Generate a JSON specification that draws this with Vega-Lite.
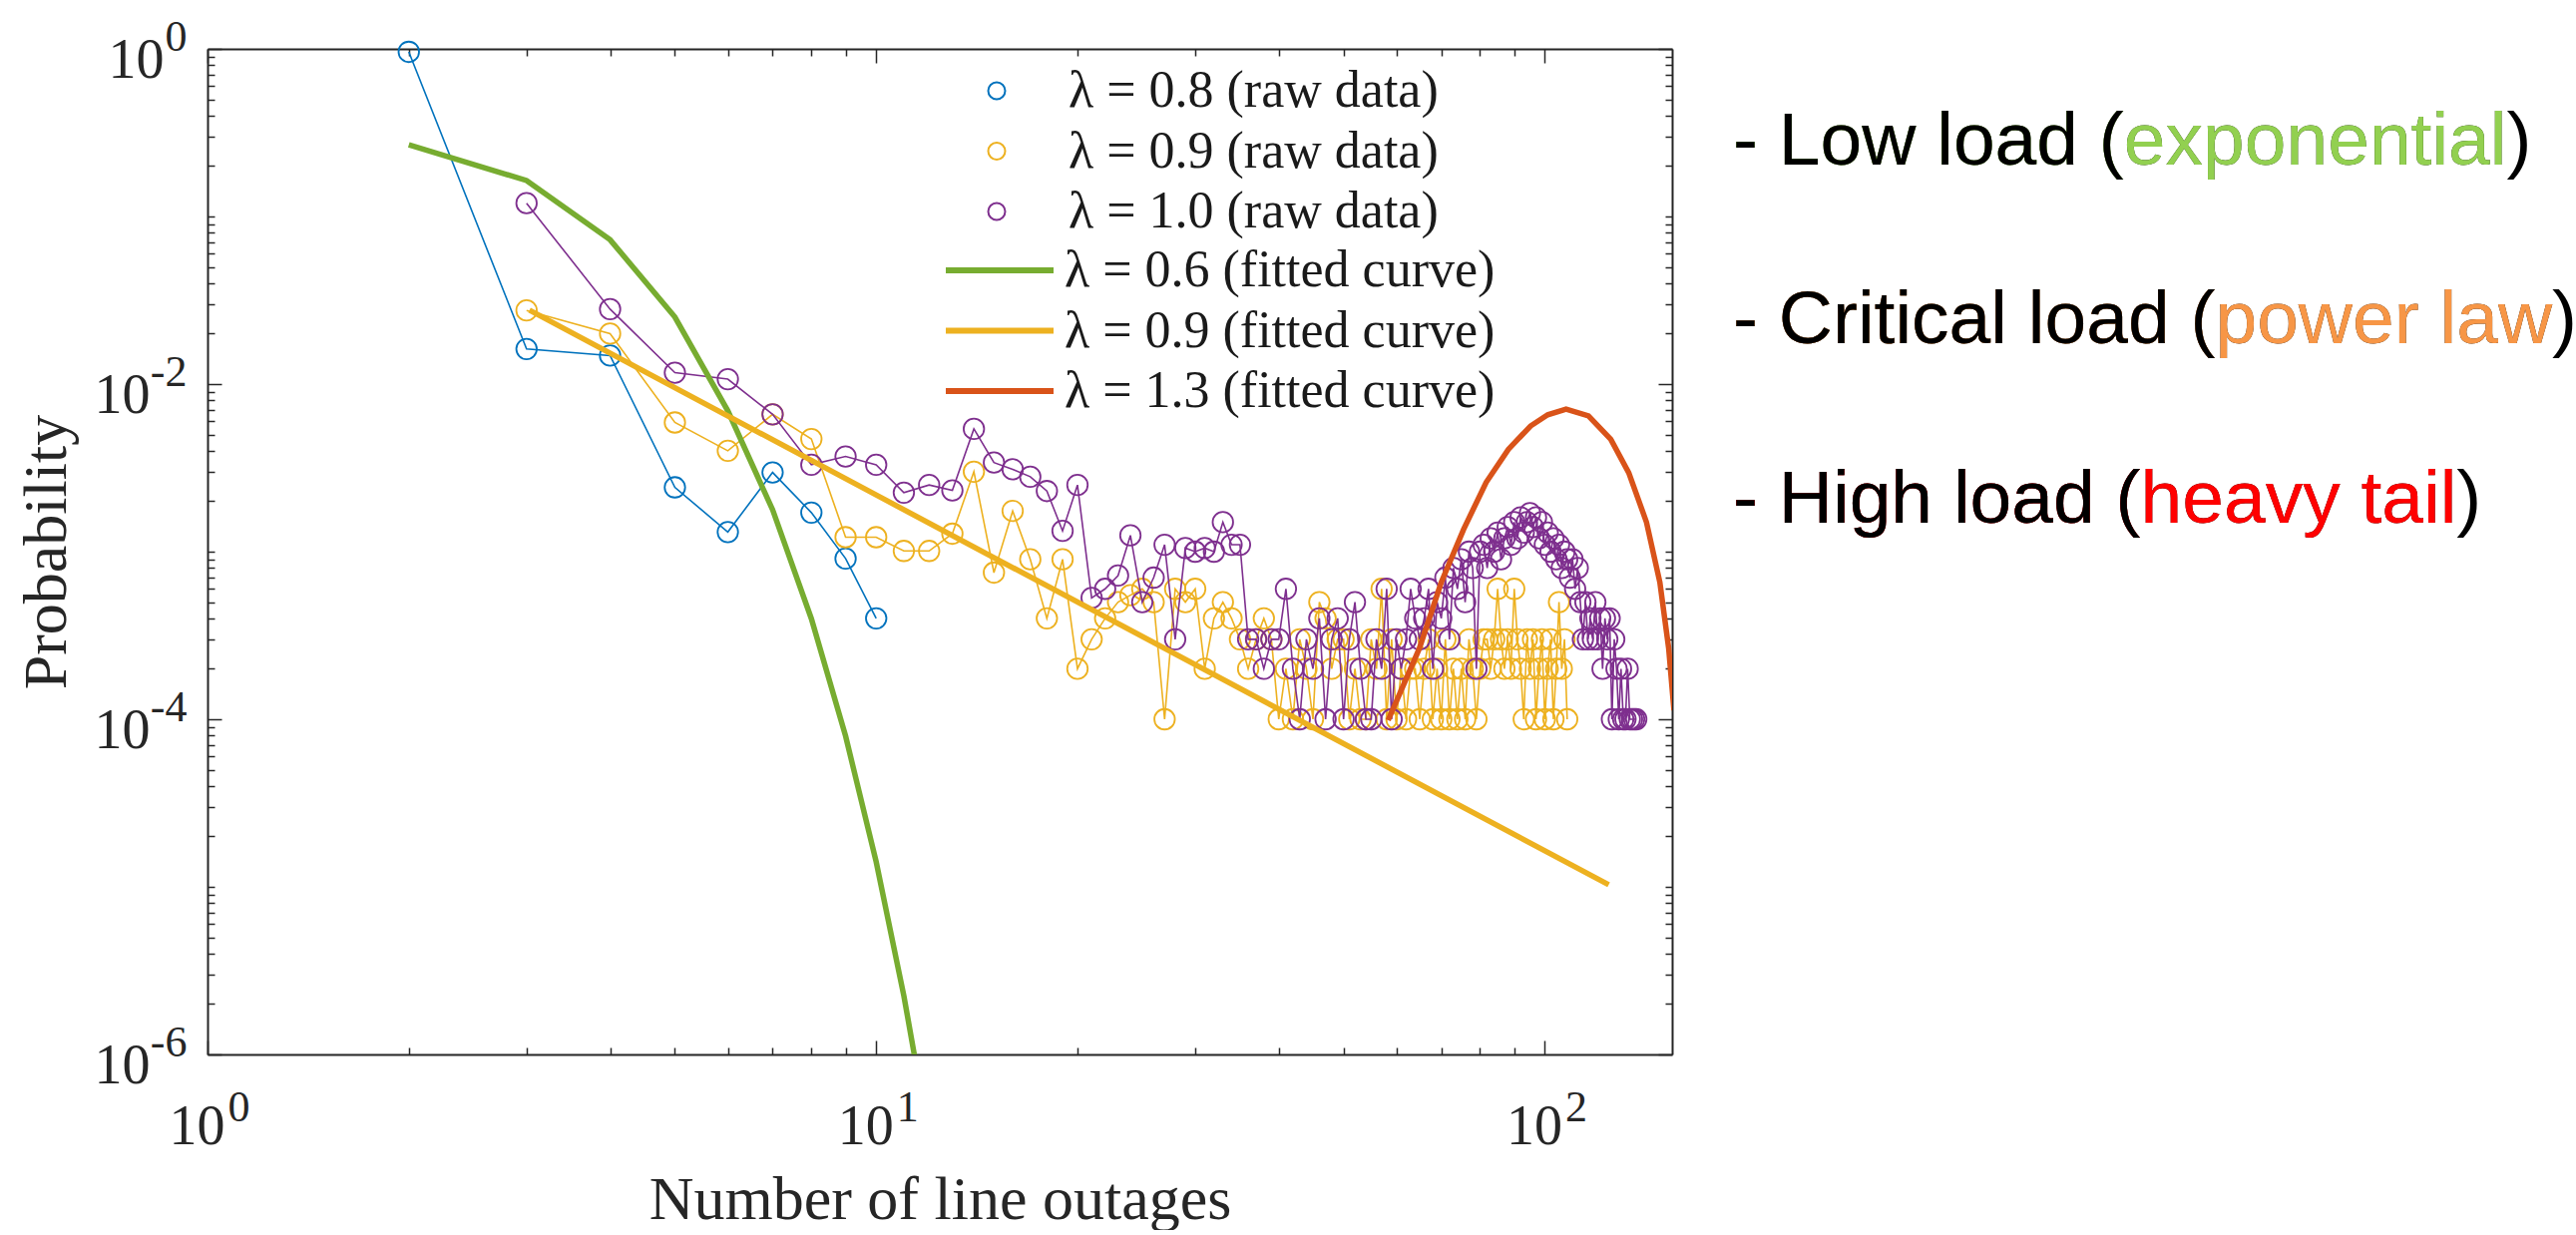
{
  "$schema": "https://vega.github.io/schema/vega-lite/v6.json",
  "background": "white",
  "autosize": {"type": "pad"},
  "padding": {"left": 15, "top": 15, "right": 0, "bottom": 0},
  "bounds": "flush",
  "spacing": 61,
  "config": {
    "view": {"stroke": null},
    "font": "Liberation Serif",
    "axis": {"grid": false, "domainColor": "#262626", "domainWidth": 2, "tickColor": "#262626", "tickWidth": 1.5, "labelColor": "#262626", "titleColor": "#262626", "labelFont": "Liberation Serif", "titleFont": "Liberation Serif", "titleFontWeight": "normal", "labelFlush": false, "labelOverlap": false}
  },
  "resolve": {"scale": {"x": "independent", "y": "independent"}},
  "datasets": {
    "blue": [
      {"s": "λ = 0.8 (raw data)", "x": 2, "p": 0.96},
      {"s": "λ = 0.8 (raw data)", "x": 3, "p": 0.0162},
      {"s": "λ = 0.8 (raw data)", "x": 4, "p": 0.0148},
      {"s": "λ = 0.8 (raw data)", "x": 5, "p": 0.00242},
      {"s": "λ = 0.8 (raw data)", "x": 6, "p": 0.00131},
      {"s": "λ = 0.8 (raw data)", "x": 7, "p": 0.00297},
      {"s": "λ = 0.8 (raw data)", "x": 8, "p": 0.00171},
      {"s": "λ = 0.8 (raw data)", "x": 9, "p": 0.00091},
      {"s": "λ = 0.8 (raw data)", "x": 10, "p": 0.0004}
    ],
    "yellow": [
      {"s": "λ = 0.9 (raw data)", "x": 3, "p": 0.0275},
      {"s": "λ = 0.9 (raw data)", "x": 4, "p": 0.02},
      {"s": "λ = 0.9 (raw data)", "x": 5, "p": 0.0059},
      {"s": "λ = 0.9 (raw data)", "x": 6, "p": 0.004},
      {"s": "λ = 0.9 (raw data)", "x": 7, "p": 0.0066},
      {"s": "λ = 0.9 (raw data)", "x": 8, "p": 0.0047},
      {"s": "λ = 0.9 (raw data)", "x": 9, "p": 0.00122},
      {"s": "λ = 0.9 (raw data)", "x": 10, "p": 0.00122},
      {"s": "λ = 0.9 (raw data)", "x": 11, "p": 0.00101},
      {"s": "λ = 0.9 (raw data)", "x": 12, "p": 0.00101},
      {"s": "λ = 0.9 (raw data)", "x": 13, "p": 0.00128},
      {"s": "λ = 0.9 (raw data)", "x": 14, "p": 0.003},
      {"s": "λ = 0.9 (raw data)", "x": 15, "p": 0.00075},
      {"s": "λ = 0.9 (raw data)", "x": 16, "p": 0.00175},
      {"s": "λ = 0.9 (raw data)", "x": 17, "p": 0.0009},
      {"s": "λ = 0.9 (raw data)", "x": 18, "p": 0.0004},
      {"s": "λ = 0.9 (raw data)", "x": 19, "p": 0.0009},
      {"s": "λ = 0.9 (raw data)", "x": 20, "p": 0.0002},
      {"s": "λ = 0.9 (raw data)", "x": 21, "p": 0.0003},
      {"s": "λ = 0.9 (raw data)", "x": 22, "p": 0.0004},
      {"s": "λ = 0.9 (raw data)", "x": 23, "p": 0.0005},
      {"s": "λ = 0.9 (raw data)", "x": 24, "p": 0.00055},
      {"s": "λ = 0.9 (raw data)", "x": 25, "p": 0.0006},
      {"s": "λ = 0.9 (raw data)", "x": 26, "p": 0.0005},
      {"s": "λ = 0.9 (raw data)", "x": 27, "p": 0.0001},
      {"s": "λ = 0.9 (raw data)", "x": 28, "p": 0.0006},
      {"s": "λ = 0.9 (raw data)", "x": 29, "p": 0.0005},
      {"s": "λ = 0.9 (raw data)", "x": 30, "p": 0.0006},
      {"s": "λ = 0.9 (raw data)", "x": 31, "p": 0.0002},
      {"s": "λ = 0.9 (raw data)", "x": 32, "p": 0.0004},
      {"s": "λ = 0.9 (raw data)", "x": 33, "p": 0.0005},
      {"s": "λ = 0.9 (raw data)", "x": 34, "p": 0.0004},
      {"s": "λ = 0.9 (raw data)", "x": 35, "p": 0.0003},
      {"s": "λ = 0.9 (raw data)", "x": 36, "p": 0.0002},
      {"s": "λ = 0.9 (raw data)", "x": 37, "p": 0.0003},
      {"s": "λ = 0.9 (raw data)", "x": 38, "p": 0.0004},
      {"s": "λ = 0.9 (raw data)", "x": 39, "p": 0.0003},
      {"s": "λ = 0.9 (raw data)", "x": 40, "p": 0.0001},
      {"s": "λ = 0.9 (raw data)", "x": 41, "p": 0.0002},
      {"s": "λ = 0.9 (raw data)", "x": 42, "p": 0.0001},
      {"s": "λ = 0.9 (raw data)", "x": 43, "p": 0.0003},
      {"s": "λ = 0.9 (raw data)", "x": 44, "p": 0.0002},
      {"s": "λ = 0.9 (raw data)", "x": 45, "p": 0.0001},
      {"s": "λ = 0.9 (raw data)", "x": 46, "p": 0.0005},
      {"s": "λ = 0.9 (raw data)", "x": 47, "p": 0.0004},
      {"s": "λ = 0.9 (raw data)", "x": 48, "p": 0.0002},
      {"s": "λ = 0.9 (raw data)", "x": 49, "p": 0.0003},
      {"s": "λ = 0.9 (raw data)", "x": 50, "p": 0.0003},
      {"s": "λ = 0.9 (raw data)", "x": 51, "p": 0.0001},
      {"s": "λ = 0.9 (raw data)", "x": 52, "p": 0.0002},
      {"s": "λ = 0.9 (raw data)", "x": 53, "p": 0.0001},
      {"s": "λ = 0.9 (raw data)", "x": 54, "p": 0.0001},
      {"s": "λ = 0.9 (raw data)", "x": 55, "p": 0.0003},
      {"s": "λ = 0.9 (raw data)", "x": 56, "p": 0.0002},
      {"s": "λ = 0.9 (raw data)", "x": 57, "p": 0.0006},
      {"s": "λ = 0.9 (raw data)", "x": 58, "p": 0.0001},
      {"s": "λ = 0.9 (raw data)", "x": 59, "p": 0.0003},
      {"s": "λ = 0.9 (raw data)", "x": 60, "p": 0.0001},
      {"s": "λ = 0.9 (raw data)", "x": 61, "p": 0.0002},
      {"s": "λ = 0.9 (raw data)", "x": 62, "p": 0.0001},
      {"s": "λ = 0.9 (raw data)", "x": 63, "p": 0.0002},
      {"s": "λ = 0.9 (raw data)", "x": 64, "p": 0.0002},
      {"s": "λ = 0.9 (raw data)", "x": 65, "p": 0.0001},
      {"s": "λ = 0.9 (raw data)", "x": 66, "p": 0.0002},
      {"s": "λ = 0.9 (raw data)", "x": 67, "p": 0.0003},
      {"s": "λ = 0.9 (raw data)", "x": 68, "p": 0.0001},
      {"s": "λ = 0.9 (raw data)", "x": 69, "p": 0.0002},
      {"s": "λ = 0.9 (raw data)", "x": 70, "p": 0.0001},
      {"s": "λ = 0.9 (raw data)", "x": 71, "p": 0.0003},
      {"s": "λ = 0.9 (raw data)", "x": 72, "p": 0.0001},
      {"s": "λ = 0.9 (raw data)", "x": 73, "p": 0.0002},
      {"s": "λ = 0.9 (raw data)", "x": 74, "p": 0.0001},
      {"s": "λ = 0.9 (raw data)", "x": 75, "p": 0.0002},
      {"s": "λ = 0.9 (raw data)", "x": 76, "p": 0.0001},
      {"s": "λ = 0.9 (raw data)", "x": 77, "p": 0.0003},
      {"s": "λ = 0.9 (raw data)", "x": 78, "p": 0.0002},
      {"s": "λ = 0.9 (raw data)", "x": 79, "p": 0.0001},
      {"s": "λ = 0.9 (raw data)", "x": 80, "p": 0.0002},
      {"s": "λ = 0.9 (raw data)", "x": 81, "p": 0.0003},
      {"s": "λ = 0.9 (raw data)", "x": 82, "p": 0.0003},
      {"s": "λ = 0.9 (raw data)", "x": 83, "p": 0.0002},
      {"s": "λ = 0.9 (raw data)", "x": 84, "p": 0.0003},
      {"s": "λ = 0.9 (raw data)", "x": 85, "p": 0.0006},
      {"s": "λ = 0.9 (raw data)", "x": 86, "p": 0.0003},
      {"s": "λ = 0.9 (raw data)", "x": 87, "p": 0.0002},
      {"s": "λ = 0.9 (raw data)", "x": 88, "p": 0.0003},
      {"s": "λ = 0.9 (raw data)", "x": 89, "p": 0.0002},
      {"s": "λ = 0.9 (raw data)", "x": 90, "p": 0.0006},
      {"s": "λ = 0.9 (raw data)", "x": 91, "p": 0.0003},
      {"s": "λ = 0.9 (raw data)", "x": 92, "p": 0.0002},
      {"s": "λ = 0.9 (raw data)", "x": 93, "p": 0.0001},
      {"s": "λ = 0.9 (raw data)", "x": 94, "p": 0.0003},
      {"s": "λ = 0.9 (raw data)", "x": 95, "p": 0.0002},
      {"s": "λ = 0.9 (raw data)", "x": 96, "p": 0.0003},
      {"s": "λ = 0.9 (raw data)", "x": 97, "p": 0.0001},
      {"s": "λ = 0.9 (raw data)", "x": 98, "p": 0.0002},
      {"s": "λ = 0.9 (raw data)", "x": 99, "p": 0.0003},
      {"s": "λ = 0.9 (raw data)", "x": 100, "p": 0.0001},
      {"s": "λ = 0.9 (raw data)", "x": 101, "p": 0.0002},
      {"s": "λ = 0.9 (raw data)", "x": 102, "p": 0.0003},
      {"s": "λ = 0.9 (raw data)", "x": 103, "p": 0.0001},
      {"s": "λ = 0.9 (raw data)", "x": 104, "p": 0.0002},
      {"s": "λ = 0.9 (raw data)", "x": 105, "p": 0.0005},
      {"s": "λ = 0.9 (raw data)", "x": 106, "p": 0.0002},
      {"s": "λ = 0.9 (raw data)", "x": 107, "p": 0.0003},
      {"s": "λ = 0.9 (raw data)", "x": 108, "p": 0.0001}
    ],
    "purple": [
      {"s": "λ = 1.0 (raw data)", "x": 3, "p": 0.12},
      {"s": "λ = 1.0 (raw data)", "x": 4, "p": 0.028},
      {"s": "λ = 1.0 (raw data)", "x": 5, "p": 0.0117},
      {"s": "λ = 1.0 (raw data)", "x": 6, "p": 0.0107},
      {"s": "λ = 1.0 (raw data)", "x": 7, "p": 0.0066},
      {"s": "λ = 1.0 (raw data)", "x": 8, "p": 0.0033},
      {"s": "λ = 1.0 (raw data)", "x": 9, "p": 0.0037},
      {"s": "λ = 1.0 (raw data)", "x": 10, "p": 0.0033},
      {"s": "λ = 1.0 (raw data)", "x": 11, "p": 0.00225},
      {"s": "λ = 1.0 (raw data)", "x": 12, "p": 0.0025},
      {"s": "λ = 1.0 (raw data)", "x": 13, "p": 0.00232},
      {"s": "λ = 1.0 (raw data)", "x": 14, "p": 0.0054},
      {"s": "λ = 1.0 (raw data)", "x": 15, "p": 0.0034},
      {"s": "λ = 1.0 (raw data)", "x": 16, "p": 0.0031},
      {"s": "λ = 1.0 (raw data)", "x": 17, "p": 0.0028},
      {"s": "λ = 1.0 (raw data)", "x": 18, "p": 0.0023},
      {"s": "λ = 1.0 (raw data)", "x": 19, "p": 0.00133},
      {"s": "λ = 1.0 (raw data)", "x": 20, "p": 0.0025},
      {"s": "λ = 1.0 (raw data)", "x": 21, "p": 0.00053},
      {"s": "λ = 1.0 (raw data)", "x": 22, "p": 0.0006},
      {"s": "λ = 1.0 (raw data)", "x": 23, "p": 0.00072},
      {"s": "λ = 1.0 (raw data)", "x": 24, "p": 0.00125},
      {"s": "λ = 1.0 (raw data)", "x": 25, "p": 0.0005},
      {"s": "λ = 1.0 (raw data)", "x": 26, "p": 0.0007},
      {"s": "λ = 1.0 (raw data)", "x": 27, "p": 0.0011},
      {"s": "λ = 1.0 (raw data)", "x": 28, "p": 0.0003},
      {"s": "λ = 1.0 (raw data)", "x": 29, "p": 0.00105},
      {"s": "λ = 1.0 (raw data)", "x": 30, "p": 0.001},
      {"s": "λ = 1.0 (raw data)", "x": 31, "p": 0.00105},
      {"s": "λ = 1.0 (raw data)", "x": 32, "p": 0.001},
      {"s": "λ = 1.0 (raw data)", "x": 33, "p": 0.0015},
      {"s": "λ = 1.0 (raw data)", "x": 34, "p": 0.0011},
      {"s": "λ = 1.0 (raw data)", "x": 35, "p": 0.0011},
      {"s": "λ = 1.0 (raw data)", "x": 36, "p": 0.0003},
      {"s": "λ = 1.0 (raw data)", "x": 37, "p": 0.0003},
      {"s": "λ = 1.0 (raw data)", "x": 38, "p": 0.0002},
      {"s": "λ = 1.0 (raw data)", "x": 39, "p": 0.0003},
      {"s": "λ = 1.0 (raw data)", "x": 40, "p": 0.0003},
      {"s": "λ = 1.0 (raw data)", "x": 41, "p": 0.0006},
      {"s": "λ = 1.0 (raw data)", "x": 42, "p": 0.0002},
      {"s": "λ = 1.0 (raw data)", "x": 43, "p": 0.0001},
      {"s": "λ = 1.0 (raw data)", "x": 44, "p": 0.0003},
      {"s": "λ = 1.0 (raw data)", "x": 45, "p": 0.0002},
      {"s": "λ = 1.0 (raw data)", "x": 46, "p": 0.0004},
      {"s": "λ = 1.0 (raw data)", "x": 47, "p": 0.0001},
      {"s": "λ = 1.0 (raw data)", "x": 48, "p": 0.0003},
      {"s": "λ = 1.0 (raw data)", "x": 49, "p": 0.0004},
      {"s": "λ = 1.0 (raw data)", "x": 50, "p": 0.0001},
      {"s": "λ = 1.0 (raw data)", "x": 51, "p": 0.0003},
      {"s": "λ = 1.0 (raw data)", "x": 52, "p": 0.0005},
      {"s": "λ = 1.0 (raw data)", "x": 53, "p": 0.0002},
      {"s": "λ = 1.0 (raw data)", "x": 54, "p": 0.0001},
      {"s": "λ = 1.0 (raw data)", "x": 55, "p": 0.0001},
      {"s": "λ = 1.0 (raw data)", "x": 56, "p": 0.0003},
      {"s": "λ = 1.0 (raw data)", "x": 57, "p": 0.0002},
      {"s": "λ = 1.0 (raw data)", "x": 58, "p": 0.0006},
      {"s": "λ = 1.0 (raw data)", "x": 59, "p": 0.0001},
      {"s": "λ = 1.0 (raw data)", "x": 60, "p": 0.0003},
      {"s": "λ = 1.0 (raw data)", "x": 61, "p": 0.0002},
      {"s": "λ = 1.0 (raw data)", "x": 62, "p": 0.0003},
      {"s": "λ = 1.0 (raw data)", "x": 63, "p": 0.0006},
      {"s": "λ = 1.0 (raw data)", "x": 64, "p": 0.0004},
      {"s": "λ = 1.0 (raw data)", "x": 65, "p": 0.0003},
      {"s": "λ = 1.0 (raw data)", "x": 66, "p": 0.0004},
      {"s": "λ = 1.0 (raw data)", "x": 67, "p": 0.0006},
      {"s": "λ = 1.0 (raw data)", "x": 68, "p": 0.0002},
      {"s": "λ = 1.0 (raw data)", "x": 69, "p": 0.0005},
      {"s": "λ = 1.0 (raw data)", "x": 70, "p": 0.0004},
      {"s": "λ = 1.0 (raw data)", "x": 71, "p": 0.0007},
      {"s": "λ = 1.0 (raw data)", "x": 72, "p": 0.0003},
      {"s": "λ = 1.0 (raw data)", "x": 73, "p": 0.0008},
      {"s": "λ = 1.0 (raw data)", "x": 74, "p": 0.0006},
      {"s": "λ = 1.0 (raw data)", "x": 75, "p": 0.0009},
      {"s": "λ = 1.0 (raw data)", "x": 76, "p": 0.0005},
      {"s": "λ = 1.0 (raw data)", "x": 77, "p": 0.001},
      {"s": "λ = 1.0 (raw data)", "x": 78, "p": 0.0008},
      {"s": "λ = 1.0 (raw data)", "x": 79, "p": 0.0002},
      {"s": "λ = 1.0 (raw data)", "x": 80, "p": 0.001},
      {"s": "λ = 1.0 (raw data)", "x": 81, "p": 0.0011},
      {"s": "λ = 1.0 (raw data)", "x": 82, "p": 0.0008},
      {"s": "λ = 1.0 (raw data)", "x": 83, "p": 0.0012},
      {"s": "λ = 1.0 (raw data)", "x": 84, "p": 0.001},
      {"s": "λ = 1.0 (raw data)", "x": 85, "p": 0.0013},
      {"s": "λ = 1.0 (raw data)", "x": 86, "p": 0.0009},
      {"s": "λ = 1.0 (raw data)", "x": 87, "p": 0.0012},
      {"s": "λ = 1.0 (raw data)", "x": 88, "p": 0.0014},
      {"s": "λ = 1.0 (raw data)", "x": 89, "p": 0.0011},
      {"s": "λ = 1.0 (raw data)", "x": 90, "p": 0.0015},
      {"s": "λ = 1.0 (raw data)", "x": 91, "p": 0.0012},
      {"s": "λ = 1.0 (raw data)", "x": 92, "p": 0.0016},
      {"s": "λ = 1.0 (raw data)", "x": 93, "p": 0.0013},
      {"s": "λ = 1.0 (raw data)", "x": 94, "p": 0.0015},
      {"s": "λ = 1.0 (raw data)", "x": 95, "p": 0.0017},
      {"s": "λ = 1.0 (raw data)", "x": 96, "p": 0.0014},
      {"s": "λ = 1.0 (raw data)", "x": 97, "p": 0.0016},
      {"s": "λ = 1.0 (raw data)", "x": 98, "p": 0.0012},
      {"s": "λ = 1.0 (raw data)", "x": 99, "p": 0.0015},
      {"s": "λ = 1.0 (raw data)", "x": 100, "p": 0.0011},
      {"s": "λ = 1.0 (raw data)", "x": 101, "p": 0.0013},
      {"s": "λ = 1.0 (raw data)", "x": 102, "p": 0.001},
      {"s": "λ = 1.0 (raw data)", "x": 103, "p": 0.0012},
      {"s": "λ = 1.0 (raw data)", "x": 104, "p": 0.0009},
      {"s": "λ = 1.0 (raw data)", "x": 105, "p": 0.0011},
      {"s": "λ = 1.0 (raw data)", "x": 106, "p": 0.0008},
      {"s": "λ = 1.0 (raw data)", "x": 107, "p": 0.001},
      {"s": "λ = 1.0 (raw data)", "x": 108, "p": 0.0009},
      {"s": "λ = 1.0 (raw data)", "x": 109, "p": 0.0007},
      {"s": "λ = 1.0 (raw data)", "x": 110, "p": 0.0009},
      {"s": "λ = 1.0 (raw data)", "x": 111, "p": 0.0006},
      {"s": "λ = 1.0 (raw data)", "x": 112, "p": 0.0008},
      {"s": "λ = 1.0 (raw data)", "x": 113, "p": 0.0005},
      {"s": "λ = 1.0 (raw data)", "x": 114, "p": 0.0003},
      {"s": "λ = 1.0 (raw data)", "x": 115, "p": 0.0005},
      {"s": "λ = 1.0 (raw data)", "x": 116, "p": 0.0003},
      {"s": "λ = 1.0 (raw data)", "x": 117, "p": 0.0004},
      {"s": "λ = 1.0 (raw data)", "x": 118, "p": 0.0003},
      {"s": "λ = 1.0 (raw data)", "x": 119, "p": 0.0005},
      {"s": "λ = 1.0 (raw data)", "x": 120, "p": 0.0003},
      {"s": "λ = 1.0 (raw data)", "x": 121, "p": 0.0004},
      {"s": "λ = 1.0 (raw data)", "x": 122, "p": 0.0002},
      {"s": "λ = 1.0 (raw data)", "x": 123, "p": 0.0004},
      {"s": "λ = 1.0 (raw data)", "x": 124, "p": 0.0003},
      {"s": "λ = 1.0 (raw data)", "x": 125, "p": 0.0004},
      {"s": "λ = 1.0 (raw data)", "x": 126, "p": 0.0001},
      {"s": "λ = 1.0 (raw data)", "x": 127, "p": 0.0003},
      {"s": "λ = 1.0 (raw data)", "x": 128, "p": 0.0002},
      {"s": "λ = 1.0 (raw data)", "x": 129, "p": 0.0001},
      {"s": "λ = 1.0 (raw data)", "x": 130, "p": 0.0002},
      {"s": "λ = 1.0 (raw data)", "x": 131, "p": 0.0001},
      {"s": "λ = 1.0 (raw data)", "x": 132, "p": 0.0001},
      {"s": "λ = 1.0 (raw data)", "x": 133, "p": 0.0002},
      {"s": "λ = 1.0 (raw data)", "x": 134, "p": 0.0001},
      {"s": "λ = 1.0 (raw data)", "x": 135, "p": 0.0001},
      {"s": "λ = 1.0 (raw data)", "x": 136, "p": 0.0001},
      {"s": "λ = 1.0 (raw data)", "x": 137, "p": 0.0001}
    ],
    "fit": [
      {"s": "λ = 0.6 (fitted curve)", "x": 2, "p": 0.268},
      {"s": "λ = 0.6 (fitted curve)", "x": 3, "p": 0.164},
      {"s": "λ = 0.6 (fitted curve)", "x": 4, "p": 0.0726},
      {"s": "λ = 0.6 (fitted curve)", "x": 5, "p": 0.0251},
      {"s": "λ = 0.6 (fitted curve)", "x": 6, "p": 0.00692},
      {"s": "λ = 0.6 (fitted curve)", "x": 7, "p": 0.00178},
      {"s": "λ = 0.6 (fitted curve)", "x": 8, "p": 0.000398},
      {"s": "λ = 0.6 (fitted curve)", "x": 9, "p": 0.0000794},
      {"s": "λ = 0.6 (fitted curve)", "x": 10, "p": 0.0000141},
      {"s": "λ = 0.6 (fitted curve)", "x": 11, "p": 0.00000224},
      {"s": "λ = 0.6 (fitted curve)", "x": 12, "p": 0.000000316},
      {"s": "λ = 0.9 (fitted curve)", "x": 3.03, "p": 0.0276},
      {"s": "λ = 0.9 (fitted curve)", "x": 10, "p": 0.00218},
      {"s": "λ = 0.9 (fitted curve)", "x": 124.6, "p": 0.0000103},
      {"s": "λ = 1.3 (fitted curve)", "x": 58.3, "p": 0.0000986},
      {"s": "λ = 1.3 (fitted curve)", "x": 64.9, "p": 0.000264},
      {"s": "λ = 1.3 (fitted curve)", "x": 70, "p": 0.000656},
      {"s": "λ = 1.3 (fitted curve)", "x": 75.6, "p": 0.00136},
      {"s": "λ = 1.3 (fitted curve)", "x": 81.7, "p": 0.00259},
      {"s": "λ = 1.3 (fitted curve)", "x": 88.2, "p": 0.00408},
      {"s": "λ = 1.3 (fitted curve)", "x": 95.2, "p": 0.00562},
      {"s": "λ = 1.3 (fitted curve)", "x": 101, "p": 0.00656},
      {"s": "λ = 1.3 (fitted curve)", "x": 107.6, "p": 0.00708},
      {"s": "λ = 1.3 (fitted curve)", "x": 116.2, "p": 0.00646},
      {"s": "λ = 1.3 (fitted curve)", "x": 125.5, "p": 0.00468},
      {"s": "λ = 1.3 (fitted curve)", "x": 133.5, "p": 0.00296},
      {"s": "λ = 1.3 (fitted curve)", "x": 141.9, "p": 0.0015},
      {"s": "λ = 1.3 (fitted curve)", "x": 148.6, "p": 0.000656},
      {"s": "λ = 1.3 (fitted curve)", "x": 153.2, "p": 0.000264},
      {"s": "λ = 1.3 (fitted curve)", "x": 156, "p": 0.000113}
    ],
    "notes": [
      {"line": 1, "full": "- Low load (exponential)", "partial": "- Low load (exponential", "prefix": "- Low load ("},
      {"line": 2, "full": "- Critical load (power law)", "partial": "- Critical load (power law", "prefix": "- Critical load ("},
      {"line": 3, "full": "- High load (heavy tail)", "partial": "- High load (heavy tail", "prefix": "- High load ("}
    ]
  },
  "hconcat": [
    {
      "width": 1468,
      "height": 1008,
      "resolve": {"axis": {"x": "independent", "y": "independent"}},
      "layer": [
        {
          "data": {"name": "blue"},
          "mark": {"type": "line", "strokeWidth": 1.6, "point": {"filled": false, "size": 420, "strokeWidth": 1.8}},
          "encoding": {
            "x": {"field": "x", "type": "quantitative", "scale": {"type": "log", "domain": [1, 155], "nice": false},
              "axis": {"orient": "bottom", "values": [1, 10, 100], "labelExpr": "'10'", "ticks": false, "domain": true, "labelFontSize": 56, "labelBaseline": "top", "labelPadding": 45, "labelOffset": -11, "title": "Number of line outages", "titleFontSize": 62, "titlePadding": 15}},
            "y": {"field": "p", "type": "quantitative", "scale": {"type": "log", "domain": [0.000001, 1], "nice": false},
              "axis": {"orient": "left", "values": [1, 0.01, 0.0001, 0.000001], "labelExpr": "'10'", "ticks": false, "domain": true, "labelFontSize": 56, "labelAlign": "right", "labelBaseline": "middle", "labelOffset": 11, "labelPadding": {"condition": {"test": "datum.value == 1", "value": 44}, "value": 58}, "title": "Probability", "titleFontSize": 62, "titlePadding": 16}},
            "color": {"field": "s", "type": "nominal",
              "scale": {"domain": ["λ = 0.8 (raw data)", "λ = 0.9 (raw data)", "λ = 1.0 (raw data)"], "range": ["#0072BD", "#EDB120", "#7E2F8E"]},
              "legend": {"orient": "none", "legendX": 765, "legendY": 14, "title": null, "symbolType": "circle", "symbolSize": 289, "symbolStrokeWidth": 2, "symbolFillColor": "transparent", "labelFont": "Liberation Serif", "labelFontSize": 52, "labelColor": "#1a1a1a", "labelOffset": 46, "labelLimit": 0, "rowPadding": 4.5, "clipHeight": 56, "padding": 0}}
          }
        },
        {
          "data": {"name": "yellow"},
          "mark": {"type": "line", "strokeWidth": 1.6, "point": {"filled": false, "size": 420, "strokeWidth": 1.8}},
          "encoding": {
            "x": {"field": "x", "type": "quantitative", "scale": {"type": "log", "domain": [1, 155], "nice": false},
              "axis": {"orient": "bottom", "values": [1, 10, 100], "labelExpr": "datum.value == 1 ? '0' : datum.value == 10 ? '1' : '2'", "ticks": false, "domain": false, "labelFontSize": 44, "labelBaseline": "top", "labelPadding": 31, "labelOffset": 31, "title": null}},
            "y": {"field": "p", "type": "quantitative", "scale": {"type": "log", "domain": [0.000001, 1], "nice": false},
              "axis": {"orient": "left", "values": [1, 0.01, 0.0001, 0.000001], "labelExpr": "datum.value == 1 ? '0' : datum.value == 0.01 ? '-2' : datum.value == 0.0001 ? '-4' : '-6'", "ticks": false, "domain": false, "labelFontSize": 44, "labelAlign": "right", "labelBaseline": "middle", "labelOffset": -12, "labelPadding": 21, "title": null}},
            "color": {"field": "s", "type": "nominal", "scale": {"domain": ["λ = 0.8 (raw data)", "λ = 0.9 (raw data)", "λ = 1.0 (raw data)"], "range": ["#0072BD", "#EDB120", "#7E2F8E"]}}
          }
        },
        {
          "data": {"name": "purple"},
          "mark": {"type": "line", "strokeWidth": 1.6, "point": {"filled": false, "size": 420, "strokeWidth": 1.8}},
          "encoding": {
            "x": {"field": "x", "type": "quantitative", "scale": {"type": "log", "domain": [1, 155], "nice": false},
              "axis": {"orient": "bottom", "values": [1, 2, 3, 4, 5, 6, 7, 8, 9, 10, 20, 30, 40, 50, 60, 70, 80, 90, 100], "labels": false, "domain": false, "tickSize": {"condition": {"test": "datum.value == 1 || datum.value == 10 || datum.value == 100", "value": -14}, "value": -7}, "title": null}},
            "y": {"field": "p", "type": "quantitative", "scale": {"type": "log", "domain": [0.000001, 1], "nice": false},
              "axis": {"orient": "left", "values": [0.000001, 0.000002, 0.000003, 0.000004, 0.000005, 0.000006, 0.000007, 0.000008, 0.000009, 0.00001, 0.00002, 0.00003, 0.00004, 0.00005, 0.00006, 0.00007, 0.00008, 0.00009, 0.0001, 0.0002, 0.0003, 0.0004, 0.0005, 0.0006, 0.0007, 0.0008, 0.0009, 0.001, 0.002, 0.003, 0.004, 0.005, 0.006, 0.007, 0.008, 0.009, 0.01, 0.02, 0.03, 0.04, 0.05, 0.06, 0.07, 0.08, 0.09, 0.1, 0.2, 0.3, 0.4, 0.5, 0.6, 0.7, 0.8, 0.9, 1], "labels": false, "domain": false, "tickSize": {"condition": {"test": "datum.value == 1 || datum.value == 0.01 || datum.value == 0.0001 || datum.value == 0.000001", "value": -14}, "value": -7}, "title": null}},
            "color": {"field": "s", "type": "nominal", "scale": {"domain": ["λ = 0.8 (raw data)", "λ = 0.9 (raw data)", "λ = 1.0 (raw data)"], "range": ["#0072BD", "#EDB120", "#7E2F8E"]}}
          }
        },
        {
          "data": {"name": "fit"},
          "mark": {"type": "line", "strokeWidth": 5.5, "clip": true},
          "encoding": {
            "x": {"field": "x", "type": "quantitative", "scale": {"type": "log", "domain": [1, 155], "nice": false},
              "axis": {"orient": "top", "values": [1, 2, 3, 4, 5, 6, 7, 8, 9, 10, 20, 30, 40, 50, 60, 70, 80, 90, 100], "labels": false, "domain": true, "tickSize": {"condition": {"test": "datum.value == 1 || datum.value == 10 || datum.value == 100", "value": -14}, "value": -7}, "title": null}},
            "y": {"field": "p", "type": "quantitative", "scale": {"type": "log", "domain": [0.000001, 1], "nice": false},
              "axis": {"orient": "right", "values": [0.000001, 0.000002, 0.000003, 0.000004, 0.000005, 0.000006, 0.000007, 0.000008, 0.000009, 0.00001, 0.00002, 0.00003, 0.00004, 0.00005, 0.00006, 0.00007, 0.00008, 0.00009, 0.0001, 0.0002, 0.0003, 0.0004, 0.0005, 0.0006, 0.0007, 0.0008, 0.0009, 0.001, 0.002, 0.003, 0.004, 0.005, 0.006, 0.007, 0.008, 0.009, 0.01, 0.02, 0.03, 0.04, 0.05, 0.06, 0.07, 0.08, 0.09, 0.1, 0.2, 0.3, 0.4, 0.5, 0.6, 0.7, 0.8, 0.9, 1], "labels": false, "domain": true, "tickSize": {"condition": {"test": "datum.value == 1 || datum.value == 0.01 || datum.value == 0.0001 || datum.value == 0.000001", "value": -14}, "value": -7}, "title": null}},
            "stroke": {"field": "s", "type": "nominal",
              "scale": {"domain": ["λ = 0.6 (fitted curve)", "λ = 0.9 (fitted curve)", "λ = 1.3 (fitted curve)"], "range": ["#77AC30", "#EDB120", "#D95319"]},
              "legend": {"orient": "none", "legendX": 737, "legendY": 194, "title": null, "symbolType": "stroke", "symbolSize": 11664, "symbolStrokeWidth": 6, "labelFont": "Liberation Serif", "labelFontSize": 52, "labelColor": "#1a1a1a", "labelOffset": 8, "labelLimit": 0, "rowPadding": 4.5, "clipHeight": 56, "padding": 0}}
          }
        }
      ]
    },
    {
      "width": 843,
      "height": 1008,
      "data": {"name": "notes"},
      "encoding": {
        "x": {"datum": 0, "type": "quantitative", "scale": {"domain": [0, 1]}, "axis": null},
        "y": {"field": "line", "type": "quantitative", "scale": {"domain": [0.3538, 5.9694], "reverse": true, "nice": false, "zero": false}, "axis": null}
      },
      "layer": [
        {"mark": {"type": "text", "align": "left", "baseline": "alphabetic", "font": "Liberation Sans", "fontSize": 75, "fill": "#000000"}, "encoding": {"text": {"field": "full"}}},
        {"mark": {"type": "text", "align": "left", "baseline": "alphabetic", "font": "Liberation Sans", "fontSize": 75}, "encoding": {"text": {"field": "partial"}, "fill": {"field": "line", "type": "nominal", "scale": {"domain": [1, 2, 3], "range": ["#92D050", "#F79646", "#FF0000"]}, "legend": null}}},
        {"mark": {"type": "text", "align": "left", "baseline": "alphabetic", "font": "Liberation Sans", "fontSize": 75, "fill": "#000000"}, "encoding": {"text": {"field": "prefix"}}}
      ]
    }
  ]
}
